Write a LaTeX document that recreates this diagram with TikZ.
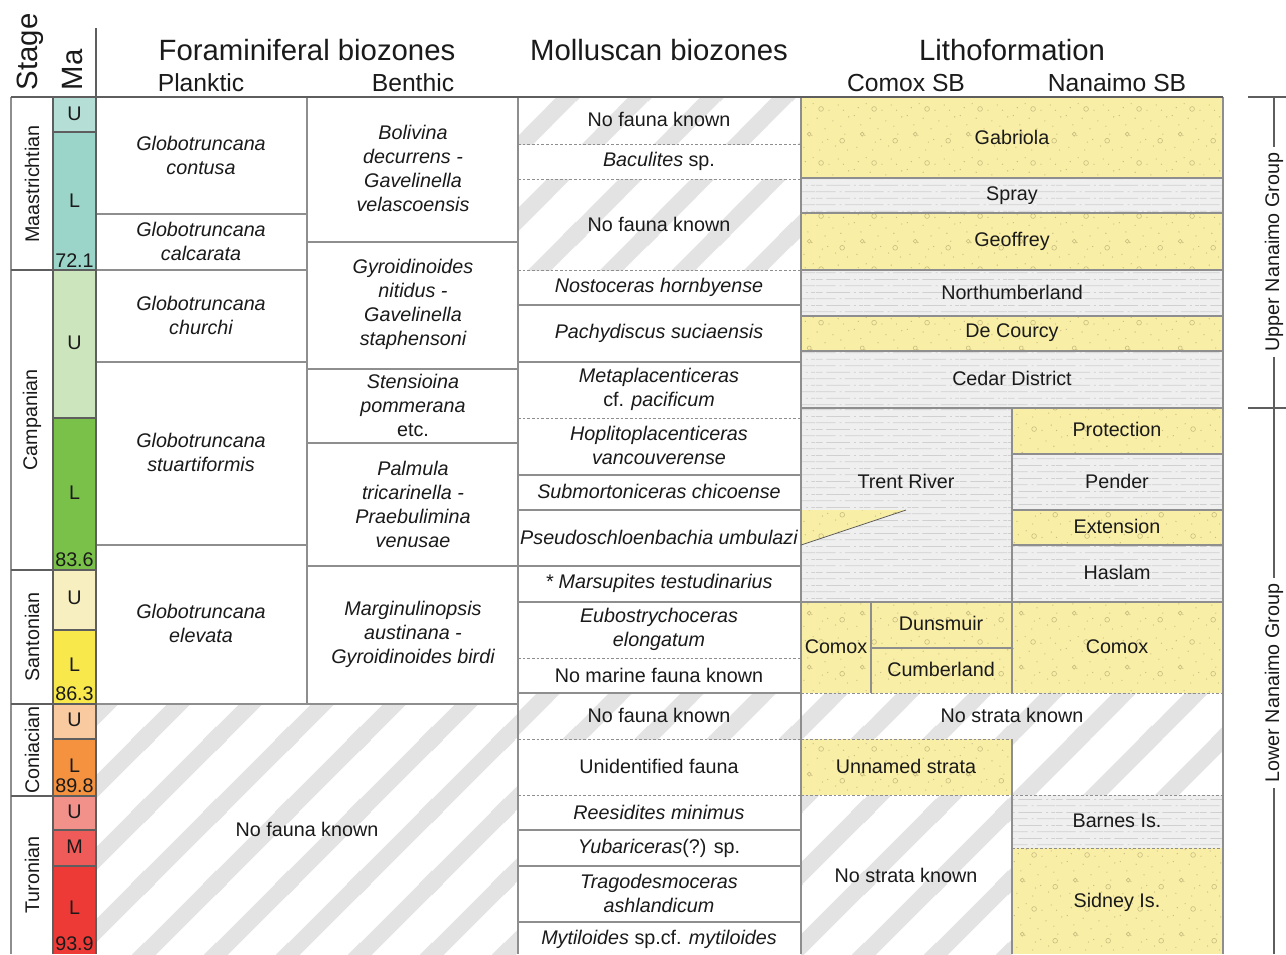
\documentclass[tikz,border=0pt]{standalone}
\usepackage{fontspec}
\setmainfont{Liberation Sans}
\usepackage{xcolor}
\usetikzlibrary{patterns}

\definecolor{sandfill}{HTML}{F9EEA6}
\definecolor{sanddot}{HTML}{C9BD80}
\definecolor{shalefill}{HTML}{EFEFEF}
\definecolor{shaleline}{HTML}{D0D0D0}
\definecolor{hatchgray}{HTML}{E3E3E3}
\definecolor{rulegray}{HTML}{8E8E8E}
\definecolor{darkrule}{HTML}{5E5E5E}
\definecolor{inkcol}{HTML}{1A1A1A}
\definecolor{maMaU}{HTML}{B5DED7}
\definecolor{maMaL}{HTML}{9BD4C9}
\definecolor{caU}{HTML}{CDE5BD}
\definecolor{caL}{HTML}{7AC14A}
\definecolor{saU}{HTML}{F8EFC0}
\definecolor{saL}{HTML}{F8E84C}
\definecolor{coU}{HTML}{F9CAA0}
\definecolor{coL}{HTML}{F4923F}
\definecolor{tuU}{HTML}{F2908A}
\definecolor{tuM}{HTML}{EF5B58}
\definecolor{tuL}{HTML}{EE3A37}

% lithology fills
\pgfdeclarepatternformonly{gapstripes}{\pgfpointorigin}{\pgfqpoint{54pt}{54pt}}{\pgfqpoint{54pt}{54pt}}{
  \pgfsetlinewidth{12.5pt}
  \pgfpathmoveto{\pgfqpoint{-10pt}{-10pt}}\pgfpathlineto{\pgfqpoint{64pt}{64pt}}
  \pgfpathmoveto{\pgfqpoint{-37pt}{17pt}}\pgfpathlineto{\pgfqpoint{17pt}{71pt}}
  \pgfpathmoveto{\pgfqpoint{17pt}{-37pt}}\pgfpathlineto{\pgfqpoint{71pt}{17pt}}
  \pgfusepath{stroke}}
\pgfdeclarepatternformonly{sandgrain}{\pgfpointorigin}{\pgfqpoint{40pt}{40pt}}{\pgfqpoint{40pt}{40pt}}{
  \foreach \dx/\dy in {3/5,9/14,15/3,21/11,27/6,34/15,6/22,13/27,19/19,25/25,31/21,37/28,4/35,10/38,22/33,29/37,36/3,17/9,1/29,33/33}{
    \pgfpathcircle{\pgfqpoint{\dx pt}{\dy pt}}{0.5pt}}
  \pgfusepath{fill}
  \pgfsetlinewidth{0.45pt}
  \pgfpathcircle{\pgfqpoint{16pt}{34pt}}{1.8pt}
  \pgfpathcircle{\pgfqpoint{32pt}{10pt}}{1.8pt}
  \pgfpathcircle{\pgfqpoint{7pt}{15pt}}{1.5pt}
  \pgfusepath{stroke}}
\pgfdeclarepatternformonly{shalebeds}{\pgfpointorigin}{\pgfqpoint{36pt}{10pt}}{\pgfqpoint{36pt}{10pt}}{
  \pgfsetlinewidth{0.6pt}
  \pgfpathmoveto{\pgfqpoint{0pt}{2.5pt}}\pgfpathlineto{\pgfqpoint{15pt}{2.5pt}}
  \pgfpathmoveto{\pgfqpoint{18pt}{2.5pt}}\pgfpathlineto{\pgfqpoint{19.5pt}{2.5pt}}
  \pgfpathmoveto{\pgfqpoint{22pt}{2.5pt}}\pgfpathlineto{\pgfqpoint{36pt}{2.5pt}}
  \pgfpathmoveto{\pgfqpoint{0pt}{7.5pt}}\pgfpathlineto{\pgfqpoint{5pt}{7.5pt}}
  \pgfpathmoveto{\pgfqpoint{8pt}{7.5pt}}\pgfpathlineto{\pgfqpoint{26pt}{7.5pt}}
  \pgfpathmoveto{\pgfqpoint{29pt}{7.5pt}}\pgfpathlineto{\pgfqpoint{30.5pt}{7.5pt}}
  \pgfpathmoveto{\pgfqpoint{33pt}{7.5pt}}\pgfpathlineto{\pgfqpoint{36pt}{7.5pt}}
  \pgfusepath{stroke}}

\begin{document}
\begin{tikzpicture}[x=0.75pt, y=-0.75pt,
  sand/.style={fill=sandfill, postaction={pattern=sandgrain, pattern color=sanddot}},
  shale/.style={fill=shalefill, postaction={pattern=shalebeds, pattern color=shaleline}},
  nofauna/.style={fill=white, postaction={pattern=gapstripes, pattern color=hatchgray}},
  rulethin/.style={draw=rulegray, line width=0.8pt},
  rulethick/.style={draw=darkrule, line width=1.2pt},
  ruledash/.style={draw=rulegray, line width=0.6pt, dash pattern=on 2pt off 1.5pt},
  grpline/.style={draw=darkrule, line width=0.8pt},
  hdr/.style={text=inkcol, inner sep=0pt, font=\fontsize{22}{26}\selectfont},
  subhdr/.style={text=inkcol, inner sep=0pt, font=\fontsize{18.5}{22}\selectfont},
  txt/.style={text=inkcol, align=center, inner sep=0pt, font=\fontsize{14.8}{18}\selectfont},
  sp/.style={txt, font=\fontsize{14.8}{18}\selectfont\itshape},
  stagelbl/.style={txt, rotate=90}
]
\useasboundingbox (0,0) rectangle (1286,954);
\fill[white] (0,0) rectangle (1286,954);

% Ma column
\fill[maMaU] (53,97) rectangle (96,132);
\fill[maMaL] (53,132) rectangle (96,270);
\fill[caU] (53,270) rectangle (96,418);
\fill[caL] (53,418) rectangle (96,570);
\fill[saU] (53,570) rectangle (96,630);
\fill[saL] (53,630) rectangle (96,704);
\fill[coU] (53,704) rectangle (96,739);
\fill[coL] (53,739) rectangle (96,796);
\fill[tuU] (53,796) rectangle (96,830);
\fill[tuM] (53,830) rectangle (96,866);
\fill[tuL] (53,866) rectangle (96,954);

% gaps
\path[nofauna] (96,704) rectangle (518,954);
\path[nofauna] (518,97) rectangle (801,144);
\path[nofauna] (518,179) rectangle (801,270);
\path[nofauna] (518,693) rectangle (801,739);
\path[nofauna] (801,693) rectangle (1223,739);
\path[nofauna] (1012,739) rectangle (1223,795);
\path[nofauna] (801,795) rectangle (1012,954);

% lithoformations
\path[sand] (801,97) rectangle (1223,178);
\path[shale] (801,178) rectangle (1223,213);
\path[sand] (801,213) rectangle (1223,270);
\path[shale] (801,270) rectangle (1223,316);
\path[sand] (801,316) rectangle (1223,351);
\path[shale] (801,351) rectangle (1223,408);
\path[shale] (801,408) rectangle (1012,602);
\path[sand] (801,510) -- (906,510) -- (801,545) -- cycle;
\path[sand] (1012,408) rectangle (1223,454);
\path[shale] (1012,454) rectangle (1223,510);
\path[sand] (1012,510) rectangle (1223,545);
\path[shale] (1012,545) rectangle (1223,602);
\path[sand] (801,602) rectangle (1223,693);
\path[sand] (801,739) rectangle (1012,795);
\path[shale] (1012,795) rectangle (1223,848);
\path[sand] (1012,848) rectangle (1223,954);

% frame
\draw[rulethin] (11,97) -- (11,954);
\draw[rulethick] (53,97) -- (53,954);
\foreach \xx in {307} \draw[rulethin] (\xx,97) -- (\xx,704);
\foreach \xx in {518,801,1223} \draw[rulethin] (\xx,97) -- (\xx,954);
\foreach \yy in {132,418,630,739,830,866} \draw[rulethick] (53,\yy) -- (96,\yy);
\foreach \yy in {570,796} \draw[rulethick] (11,\yy) -- (96,\yy);
\draw[rulethick] (11,270) -- (96,270);
\draw[rulethick] (11,704) -- (96,704);
\draw[rulethin] (96,270) -- (307,270);
\draw[rulethin] (96,704) -- (518,704);
\foreach \yy in {214,362,545} \draw[rulethin] (96,\yy) -- (307,\yy);
\foreach \yy in {242,369,443,566} \draw[rulethin] (307,\yy) -- (518,\yy);
\foreach \yy in {305,362,475,510,566,602,693,830,866,922} \draw[rulethin] (518,\yy) -- (801,\yy);
\foreach \yy in {144,179,270,418,658,739,795} \draw[ruledash] (518,\yy) -- (801,\yy);
\foreach \yy in {178,213,270,316,351,408,602} \draw[rulethin] (801,\yy) -- (1223,\yy);
\foreach \yy in {454,510,545} \draw[rulethin] (1012,\yy) -- (1223,\yy);
\draw[rulethin] (1012,408) -- (1012,693);
\draw[rulethin] (871,602) -- (871,693);
\draw[rulethin] (871,648) -- (1012,648);
\draw[rulethin] (1012,739) -- (1012,954);
\draw[darkrule, line width=0.6pt] (801,545) -- (906,510);
\draw[ruledash] (801,693) -- (1223,693);
\draw[ruledash] (801,739) -- (1012,739);
\draw[ruledash] (801,795) -- (1223,795);
\draw[ruledash] (1012,848) -- (1223,848);
\draw[rulethick] (96,28) -- (96,954);
\draw[rulethick] (11,97) -- (1223,97);

% headings
\node[hdr, rotate=90] (hStage) at (30,52) {Stage};
\node[hdr, rotate=90] (hMa) at (73,70) {Ma};
\node[hdr] (hForam) at (307,50) {Foraminiferal biozones};
\node[subhdr] (hPlank) at (201,83) {Planktic};
\node[subhdr] (hBenth) at (413,83) {Benthic};
\node[hdr] (hMoll) at (659,50) {Molluscan biozones};
\node[hdr] (hLitho) at (1012,50) {Lithoformation};
\node[subhdr] (hComox) at (906,83) {Comox SB};
\node[subhdr] (hNanaimo) at (1117,83) {Nanaimo SB};

% stages and Ma
\node[stagelbl] (stMaas) at (32,184) {Maastrichtian};
\node[stagelbl] (stCamp) at (32,420) {Campanian};
\node[stagelbl] (stSant) at (32,637) {Santonian};
\node[stagelbl] (stConi) at (32,750) {Coniacian};
\node[stagelbl] (stTuro) at (32,875) {Turonian};
\node[txt] (maMaasU) at (74.5,114) {U};
\node[txt] (maMaasL) at (74.5,201) {L};
\node[txt, anchor=base] (maMaasB) at (74.5,267) {72.1};
\node[txt] (maCampU) at (74.5,343) {U};
\node[txt] (maCampL) at (74.5,493) {L};
\node[txt, anchor=base] (maCampB) at (74.5,566) {83.6};
\node[txt] (maSantU) at (74.5,598) {U};
\node[txt] (maSantL) at (74.5,665) {L};
\node[txt, anchor=base] (maSantB) at (74.5,700) {86.3};
\node[txt] (maConiU) at (74.5,720) {U};
\node[txt] (maConiL) at (74.5,766) {L};
\node[txt, anchor=base] (maConiB) at (74.5,792) {89.8};
\node[txt] (maTuroU) at (74.5,812) {U};
\node[txt] (maTuroM) at (74.5,847) {M};
\node[txt] (maTuroL) at (74.5,908) {L};
\node[txt, anchor=base] (maTuroB) at (74.5,950) {93.9};

% planktic
\node[sp] (plContusa) at (201,155) {Globotruncana\\contusa};
\node[sp] (plCalcarata) at (201,241) {Globotruncana\\calcarata};
\node[sp] (plChurchi) at (201,315) {Globotruncana\\churchi};
\node[sp] (plStuart) at (201,452) {Globotruncana\\stuartiformis};
\node[sp] (plElevata) at (201,623) {Globotruncana\\elevata};
\node[txt] (foramGap) at (307,829) {No fauna known};

% benthic
\node[sp] (bnBolivina) at (413,168) {Bolivina\\decurrens -\\Gavelinella\\velascoensis};
\node[sp] (bnGyroid) at (413,304) {Gyroidinoides\\nitidus -\\Gavelinella\\staphensoni};
\node[txt] (bnStens) at (413,405) {\itshape Stensioina\\\itshape pommerana\\etc.};
\node[sp] (bnPalmula) at (413,504) {Palmula\\tricarinella -\\Praebulimina\\venusae};
\node[sp] (bnMargin) at (413,634) {Marginulinopsis\\austinana -\\Gyroidinoides birdi};

% molluscan
\node[txt] (moGapA) at (659,119) {No fauna known};
\node[txt] (moBacul) at (659,161) {\textit{Baculites} sp.};
\node[txt] (moGapB) at (659,224) {No fauna known};
\node[sp] (moNosto) at (659,287) {Nostoceras hornbyense};
\node[sp] (moPachy) at (659,333) {Pachydiscus suciaensis};
\node[txt] (moMeta) at (659,389) {\itshape Metaplacenticeras\\cf. \textit{pacificum}};
\node[sp] (moHopli) at (659,445) {Hoplitoplacenticeras\\vancouverense};
\node[sp] (moSubmo) at (659,491) {Submortoniceras chicoense};
\node[sp] (moPseudo) at (659,537) {Pseudoschloenbachia umbulazi};
\node[sp] (moMarsu) at (659,583) {* Marsupites testudinarius};
\node[sp] (moEubos) at (659,629) {Eubostrychoceras\\elongatum};
\node[txt] (moNoMar) at (659,675) {No marine fauna known};
\node[txt] (moGapC) at (659,715) {No fauna known};
\node[txt] (moUnid) at (659,766) {Unidentified fauna};
\node[sp] (moReesi) at (659,812) {Reesidites minimus};
\node[txt] (moYubar) at (659,848) {\textit{Yubariceras}(?) sp.};
\node[sp] (moTrago) at (659,893) {Tragodesmoceras\\ashlandicum};
\node[txt] (moMytil) at (659,939) {\textit{Mytiloides} sp.cf. \textit{mytiloides}};

% lithoformations
\node[txt] (lfGabriola) at (1012,137) {Gabriola};
\node[txt] (lfSpray) at (1012,196) {Spray};
\node[txt] (lfGeoffrey) at (1012,241) {Geoffrey};
\node[txt] (lfNorthum) at (1012,292) {Northumberland};
\node[txt] (lfDeCourcy) at (1012,333) {De Courcy};
\node[txt] (lfCedar) at (1012,378) {Cedar District};
\node[txt] (lfTrent) at (906,481) {Trent River};
\node[txt] (lfProtect) at (1117,429) {Protection};
\node[txt] (lfPender) at (1117,481) {Pender};
\node[txt] (lfExtens) at (1117,526) {Extension};
\node[txt] (lfHaslam) at (1117,572) {Haslam};
\node[txt] (lfComoxW) at (836,647) {Comox};
\node[txt] (lfDunsmuir) at (941,623) {Dunsmuir};
\node[txt] (lfCumber) at (941,669) {Cumberland};
\node[txt] (lfComoxE) at (1117,647) {Comox};
\node[txt] (lfGapA) at (1012,715) {No strata known};
\node[txt] (lfUnnamed) at (906,766) {Unnamed strata};
\node[txt] (lfGapB) at (906,875) {No strata known};
\node[txt] (lfBarnes) at (1117,821) {Barnes Is.};
\node[txt] (lfSidney) at (1117,902) {Sidney Is.};

% groups
\node[stagelbl] (grUpper) at (1274,252) {Upper Nanaimo Group};
\node[stagelbl] (grLower) at (1274,683) {Lower Nanaimo Group};
\coordinate (gTop) at (1274,97);
\coordinate (gMid) at (1274,408);
\coordinate (gBot) at (1274,954);
\draw[grpline] (1248,97) -- (1286,97);
\draw[grpline] (1248,408) -- (1286,408);
\draw[grpline] (gTop) -- ([yshift=4pt]grUpper.east);
\draw[grpline] ([yshift=-4pt]grUpper.west) -- (gMid);
\draw[grpline] (gMid) -- ([yshift=4pt]grLower.east);
\draw[grpline] ([yshift=-4pt]grLower.west) -- (gBot);
\end{tikzpicture}
\end{document}
